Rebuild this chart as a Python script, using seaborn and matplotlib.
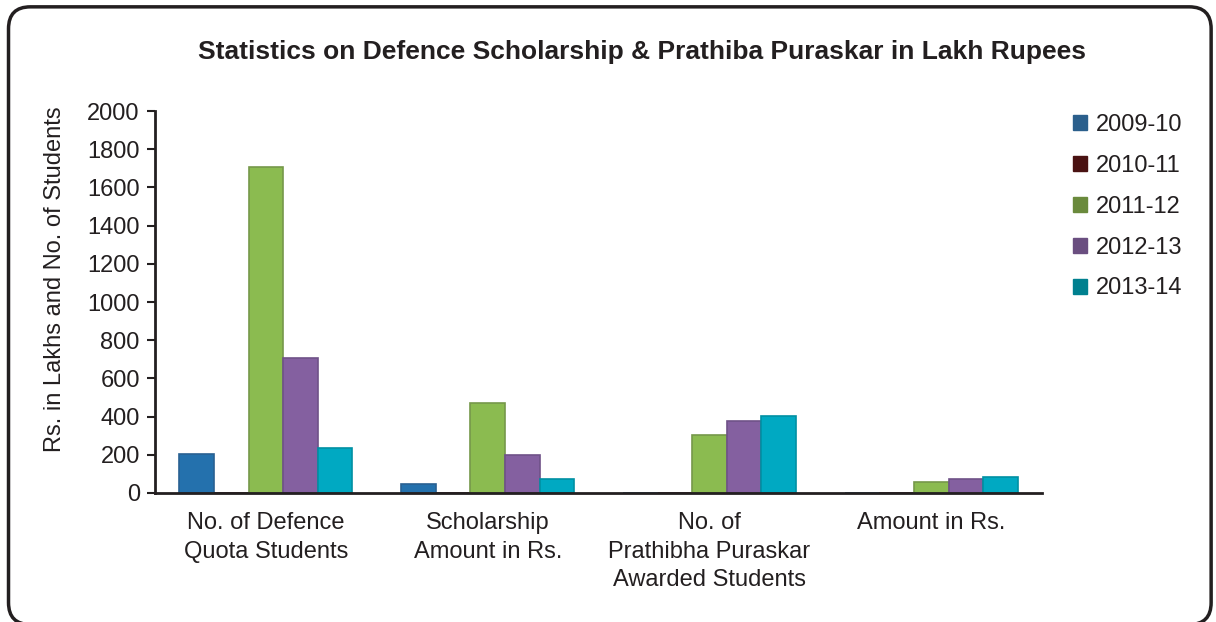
import pandas as pd
import matplotlib.pyplot as plt
import seaborn as sns
from matplotlib.patches import FancyBboxPatch, Patch
from matplotlib.ticker import MultipleLocator, FixedLocator

# Data
categories = [
    "No. of Defence\nQuota Students",
    "Scholarship\nAmount in Rs.",
    "No. of\nPrathibha Puraskar\nAwarded Students",
    "Amount in Rs.",
]
years = ["2009-10", "2010-11", "2011-12", "2012-13", "2013-14"]
v_2009_10 = [205, 48, 0, 0]
v_2010_11 = [0, 0, 0, 0]
v_2011_12 = [1705, 470, 305, 58]
v_2012_13 = [705, 200, 378, 73]
v_2013_14 = [235, 73, 405, 84]

bar_colors = ["#2471ad", "#4f1414", "#8bbb50", "#8460a0", "#00a9c2"]
edge_colors = ["#2a6192", "#3d0f0f", "#76984a", "#6f5288", "#0090a3"]
legend_colors = ["#2b5f8c", "#4a1212", "#6a8a3c", "#6a4e80", "#00808f"]

rows = []
for year, vals in zip(years, [v_2009_10, v_2010_11, v_2011_12, v_2012_13, v_2013_14]):
    for cat, v in zip(categories, vals):
        rows.append({"category": cat, "year": year, "value": v})
df = pd.DataFrame(rows)

sns.set_style("white")
plt.rcParams["font.family"] = ["Liberation Sans", "DejaVu Sans"]

fig = plt.figure(figsize=(12.16, 6.22), dpi=100)
ax = fig.add_axes([0.1275, 0.2074, 0.7295, 0.6141])

sns.barplot(data=df, x="category", y="value", hue="year", order=categories,
            hue_order=years, palette=bar_colors, saturation=1, width=0.78,
            legend=False, ax=ax)

# darker edges to hint at the shaded bars
for container, ec in zip(ax.containers, edge_colors):
    for bar in container:
        bar.set_edgecolor(ec)
        bar.set_linewidth(1.2)

ax.set_xlim(-0.5, 3.5)
ax.set_ylim(0, 2000)
ax.yaxis.set_major_locator(MultipleLocator(200))
ax.xaxis.set_minor_locator(FixedLocator([0.5, 1.5, 2.5, 3.5]))
ax.tick_params(axis="x", which="major", length=0, labelsize=17, pad=14, colors="#231f20")
ax.tick_params(axis="x", which="minor", length=6, width=1.5, direction="out", color="#231f20")
ax.tick_params(axis="y", length=6, width=1.5, direction="out", labelsize=17, pad=5,
               colors="#231f20", left=True)
for lbl in ax.get_xticklabels():
    lbl.set_linespacing(1.36)
ax.set_xlabel("")
ax.set_ylabel("Rs. in Lakhs and No. of Students", fontsize=17, color="#231f20")
ax.yaxis.set_label_coords(-0.1, 0.56)

sns.despine(ax=ax)
for side in ["left", "bottom"]:
    ax.spines[side].set_color("#231f20")
    ax.spines[side].set_linewidth(2)

fig.suptitle("Statistics on Defence Scholarship & Prathiba Puraskar in Lakh Rupees",
             x=0.528, y=0.935, fontsize=19, fontweight="bold", color="#231f20")

handles = [Patch(facecolor=c, edgecolor=c) for c in legend_colors]
fig.legend(handles, years, loc="upper left", bbox_to_anchor=(0.865, 0.851),
           frameon=False, fontsize=17, handlelength=0.6, handleheight=0.6,
           handletextpad=0.35, labelspacing=0.8, labelcolor="#231f20")

# rounded frame around the whole figure
frame = FancyBboxPatch((0.007, -0.004), 0.989, 0.993,
                       boxstyle="round,pad=0,rounding_size=0.018",
                       transform=fig.transFigure, fill=False,
                       edgecolor="#231f20", linewidth=2.5, mutation_aspect=1216 / 622)
fig.patches.append(frame)

fig.savefig("out.png", dpi=100)
